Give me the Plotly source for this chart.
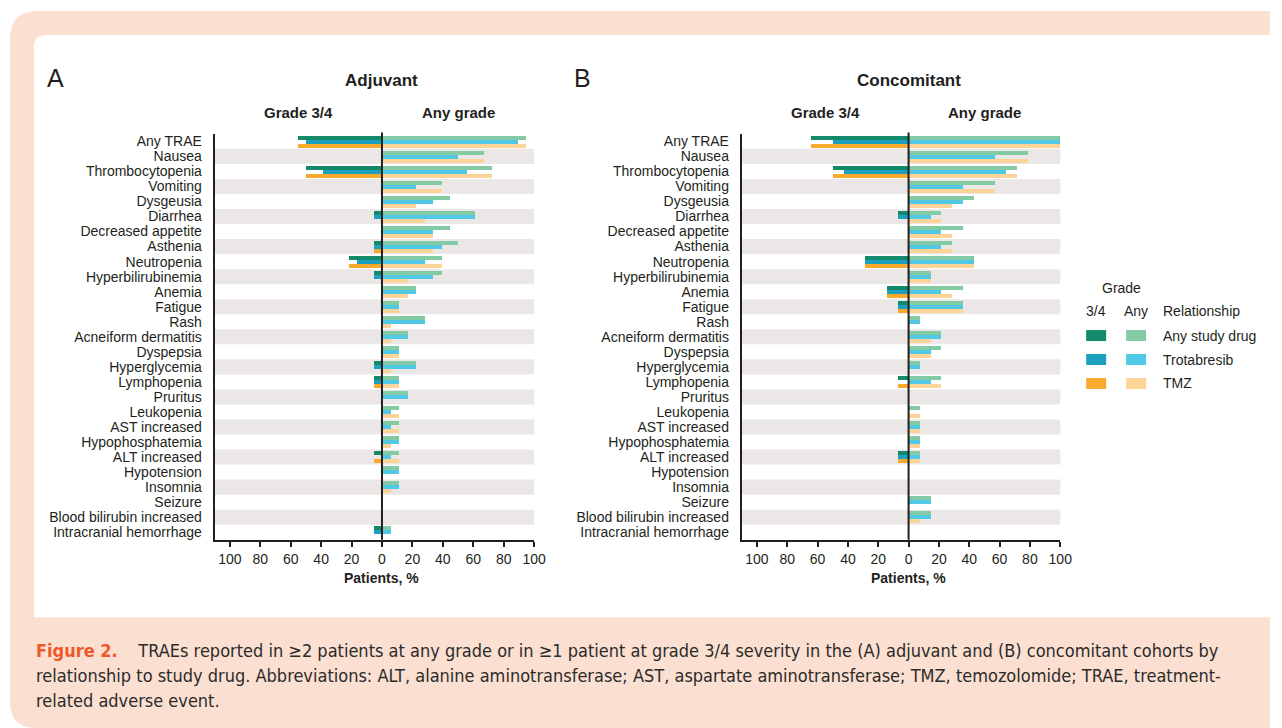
import plotly.graph_objects as go

# ---------------- data ----------------
categories = ["Any TRAE", "Nausea", "Thrombocytopenia", "Vomiting", "Dysgeusia", "Diarrhea",
              "Decreased appetite", "Asthenia", "Neutropenia", "Hyperbilirubinemia", "Anemia",
              "Fatigue", "Rash", "Acneiform dermatitis", "Dyspepsia", "Hyperglycemia",
              "Lymphopenia", "Pruritus", "Leukopenia", "AST increased", "Hypophosphatemia",
              "ALT increased", "Hypotension", "Insomnia", "Seizure", "Blood bilirubin increased",
              "Intracranial hemorrhage"]

relationships = ["Any study drug", "Trotabresib", "TMZ"]

# Adjuvant cohort (% of patients)
adj_any_asd = [94.4, 66.7, 72.2, 38.9, 44.4, 61.1, 44.4, 50.0, 38.9, 38.9, 22.2, 11.1, 27.8, 16.7,
               11.1, 22.2, 11.1, 16.7, 11.1, 11.1, 11.1, 11.1, 11.1, 11.1, 0, 0, 5.6]
adj_any_tro = [88.9, 50.0, 55.6, 22.2, 33.3, 61.1, 33.3, 38.9, 27.8, 33.3, 22.2, 11.1, 27.8, 16.7,
               11.1, 22.2, 11.1, 16.7, 5.6, 5.6, 11.1, 5.6, 11.1, 11.1, 0, 0, 5.6]
adj_any_tmz = [94.4, 66.7, 72.2, 38.9, 22.2, 27.8, 33.3, 33.3, 38.9, 16.7, 16.7, 11.1, 5.6, 5.6,
               11.1, 5.6, 11.1, 0, 11.1, 11.1, 5.6, 11.1, 0, 5.6, 0, 0, 0]
adj_g34_asd = [55.6, 0, 50.0, 0, 0, 5.6, 0, 5.6, 22.2, 5.6, 0, 0, 0, 0, 0, 5.6, 5.6, 0, 0, 0, 0,
               5.6, 0, 0, 0, 0, 5.6]
adj_g34_tro = [50.0, 0, 38.9, 0, 0, 5.6, 0, 5.6, 16.7, 5.6, 0, 0, 0, 0, 0, 5.6, 5.6, 0, 0, 0, 0,
               0, 0, 0, 0, 0, 5.6]
adj_g34_tmz = [55.6, 0, 50.0, 0, 0, 0, 0, 5.6, 22.2, 0, 0, 0, 0, 0, 0, 0, 5.6, 0, 0, 0, 0,
               5.6, 0, 0, 0, 0, 0]

# Concomitant cohort (% of patients)
con_any_asd = [100, 78.6, 71.4, 57.1, 42.9, 21.4, 35.7, 28.6, 42.9, 14.3, 35.7, 35.7, 7.1, 21.4,
               21.4, 7.1, 21.4, 0, 7.1, 7.1, 7.1, 7.1, 0, 0, 14.3, 14.3, 0]
con_any_tro = [100, 57.1, 64.3, 35.7, 35.7, 14.3, 21.4, 21.4, 42.9, 14.3, 21.4, 35.7, 7.1, 21.4,
               14.3, 7.1, 14.3, 0, 0, 7.1, 7.1, 7.1, 0, 0, 14.3, 14.3, 0]
con_any_tmz = [100, 78.6, 71.4, 57.1, 28.6, 21.4, 28.6, 28.6, 42.9, 14.3, 28.6, 35.7, 0, 14.3,
               14.3, 0, 21.4, 0, 7.1, 7.1, 7.1, 7.1, 0, 0, 0, 7.1, 0]
con_g34_asd = [64.3, 0, 50.0, 0, 0, 7.1, 0, 0, 28.6, 0, 14.3, 7.1, 0, 0, 0, 0, 7.1, 0, 0, 0, 0,
               7.1, 0, 0, 0, 0, 0]
con_g34_tro = [50.0, 0, 42.9, 0, 0, 7.1, 0, 0, 28.6, 0, 14.3, 7.1, 0, 0, 0, 0, 0, 0, 0, 0, 0,
               7.1, 0, 0, 0, 0, 0]
con_g34_tmz = [64.3, 0, 50.0, 0, 0, 0, 0, 0, 28.6, 0, 14.3, 7.1, 0, 0, 0, 0, 7.1, 0, 0, 0, 0,
               7.1, 0, 0, 0, 0, 0]

tick_vals = [-100, -80, -60, -40, -20, 0, 20, 40, 60, 80, 100]
tick_text = ["100", "80", "60", "40", "20", "0", "20", "40", "60", "80", "100"]

# ---------------- styling ----------------
W, H = 1282, 728
SX = 0.9923          # measured horizontal squeeze of the photographed page
FONT = "Liberation Sans, Arial, Helvetica, sans-serif"
TXT = "#231f20"
col_g34 = ["#138a6b", "#1ba1be", "#f9aa2a"]
col_any = ["#82cba5", "#50c8e6", "#fdd498"]
STRIPE = "#ece7e7"
PEACH = "#fbdfd0"


def px(x):
    return x / SX / W


def py(y):
    return 1 - y / H


fig = go.Figure()

panels = [
    ("x", "y", [adj_g34_asd, adj_g34_tro, adj_g34_tmz], [adj_any_asd, adj_any_tro, adj_any_tmz]),
    ("x2", "y2", [con_g34_asd, con_g34_tro, con_g34_tmz], [con_any_asd, con_any_tro, con_any_tmz]),
]

bw = 0.8 / 3
for xa, ya, g34, anyg in panels:
    for k in range(3):
        off = -0.4 + k * bw
        fig.add_trace(go.Bar(
            y=categories, x=[-v for v in g34[k]], orientation="h",
            marker=dict(color=col_g34[k], line=dict(width=0)),
            width=bw, offset=off, xaxis=xa, yaxis=ya, showlegend=False,
            name=relationships[k] + " (grade 3/4)"))
        fig.add_trace(go.Bar(
            y=categories, x=anyg[k], orientation="h",
            marker=dict(color=col_any[k], line=dict(width=0)),
            width=bw, offset=off, xaxis=xa, yaxis=ya, showlegend=False,
            name=relationships[k] + " (any grade)"))

shapes = []
# background frames (kept inside the page)
shapes.append(dict(type="path", xref="paper", yref="paper", layer="below",
                   path=f"M {px(10)},{py(38)} Q {px(10)},{py(10)} {px(38)},{py(10)} L 1,{py(10)} "
                        f"L 1,{py(728)} L {px(36)},{py(728)} Q {px(10)},{py(728)} {px(10)},{py(702)} Z",
                   fillcolor=PEACH, line=dict(width=0)))
shapes.append(dict(type="path", xref="paper", yref="paper", layer="below",
                   path=f"M {px(34)},{py(46)} Q {px(34)},{py(34)} {px(46)},{py(34)} L {px(1274)},{py(34)} "
                        f"L {px(1274)},{py(617)} L {px(34)},{py(617)} Z",
                   fillcolor="white", line=dict(width=0)))

n = len(categories)
for ya_ref, xd in [("y", "x domain"), ("y2", "x2 domain")]:
    for i in range(1, n, 2):
        shapes.append(dict(type="rect", xref=xd, yref=ya_ref, x0=0, x1=1, y0=i - 0.5, y1=i + 0.5,
                           fillcolor=STRIPE, line=dict(width=0), layer="below"))
# zero lines
for xa, yd in [("x", "y domain"), ("x2", "y2 domain")]:
    shapes.append(dict(type="line", xref=xa, yref=yd, x0=0, x1=0, y0=0, y1=1.003,
                       line=dict(color=TXT, width=2), layer="above"))

# legend swatches
leg_rows = [335, 359, 383]
for k in range(3):
    shapes.append(dict(type="rect", xref="paper", yref="paper",
                       x0=px(1088), x1=px(1108), y0=py(leg_rows[k] - 5.5), y1=py(leg_rows[k] + 5.5),
                       fillcolor=col_g34[k], line=dict(width=0)))
    shapes.append(dict(type="rect", xref="paper", yref="paper",
                       x0=px(1128), x1=px(1148), y0=py(leg_rows[k] - 5.5), y1=py(leg_rows[k] + 5.5),
                       fillcolor=col_any[k], line=dict(width=0)))

ann = []


def text(x, y, s, size=14, bold=False, xanchor="center", color=TXT, xref="paper", family=FONT):
    ann.append(dict(x=x, y=y, xref=xref, yref="paper", text=f"<b>{s}</b>" if bold else s,
                    showarrow=False, xanchor=xanchor, yanchor="middle",
                    font=dict(size=size, color=color, family=family)))


# panel letters and titles
text(px(45), py(77), "A", size=25, xanchor="left")
text(px(573), py(77), "B", size=25, xanchor="left")
text(0, py(80), "Adjuvant", size=17, bold=True, xref="x")
text(0, py(80), "Concomitant", size=17, bold=True, xref="x2")
for xr in ["x", "x2"]:
    text(-55, py(112), "Grade 3/4", size=15, bold=True, xref=xr)
    text(50, py(112), "Any grade", size=15, bold=True, xref=xr)
    text(0, py(578), "Patients, %", size=14, bold=True, xref=xr)

# legend text
text(px(1123), py(287), "Grade", size=14)
text(px(1098), py(310), "3/4", size=14)
text(px(1138), py(310), "Any", size=14)
text(px(1163), py(310), "Relationship", size=14, xanchor="left")
for k in range(3):
    text(px(1163), py(leg_rows[k]), relationships[k], size=14, xanchor="left")

# caption
CAP = "Liberation Sans Narrow, DejaVu Sans Condensed, Roboto Condensed, Liberation Sans, sans-serif"
cap_lines = [
    "<b><span style='color:#ec5a2c'>Figure 2.</span></b>&nbsp;&nbsp;&nbsp; TRAEs reported in ≥2 patients at any grade "
    "or in ≥1 patient at grade 3/4 severity in the (A) adjuvant and (B) concomitant cohorts by",
    "relationship to study drug. Abbreviations: ALT, alanine aminotransferase; AST, aspartate aminotransferase; "
    "TMZ, temozolomide; TRAE, treatment-",
    "related adverse event.",
]
for i, line in enumerate(cap_lines):
    text(px(34), py(650 + 25 * i), line, size=18, xanchor="left", color="#2b2b2b", family=CAP)

xaxis_common = dict(range=[-110, 100], tickvals=tick_vals, ticktext=tick_text, ticks="outside",
                    ticklen=5, tickwidth=2, tickcolor=TXT, showline=True, linewidth=2, linecolor=TXT,
                    showgrid=False, zeroline=False, tickfont=dict(size=14, color=TXT, family=FONT),
                    fixedrange=True)
yaxis_common = dict(type="category", categoryorder="array", categoryarray=categories,
                    tickmode="array", tickvals=categories, ticktext=categories,
                    range=[n - 0.5, -0.5], showline=True, linewidth=2, linecolor=TXT, ticks="",
                    showgrid=False, zeroline=False, ticklabelstandoff=8,
                    tickfont=dict(size=14, color=TXT, family=FONT), fixedrange=True)

y_dom = [py(539.5), py(133)]
fig.update_layout(
    width=W, height=H, autosize=False, margin=dict(l=0, r=0, t=0, b=0),
    paper_bgcolor="white", plot_bgcolor="rgba(0,0,0,0)",
    barmode="overlay", bargap=0,
    font=dict(family=FONT, color=TXT),
    xaxis=dict(domain=[px(215), px(535)], anchor="y", **xaxis_common),
    yaxis=dict(domain=y_dom, anchor="x", **yaxis_common),
    xaxis2=dict(domain=[px(743), px(1062)], anchor="y2", **xaxis_common),
    yaxis2=dict(domain=y_dom, anchor="x2", **yaxis_common),
    shapes=shapes, annotations=ann, showlegend=False,
)

post = """
document.body.style.margin = '0';
document.body.style.overflow = 'hidden';
document.body.style.background = 'linear-gradient(to bottom, #ffffff 0px, #ffffff 10px, #fbdfd0 10px)';
"""
fig.write_html("out.html", config={"displayModeBar": False}, post_script=post)
